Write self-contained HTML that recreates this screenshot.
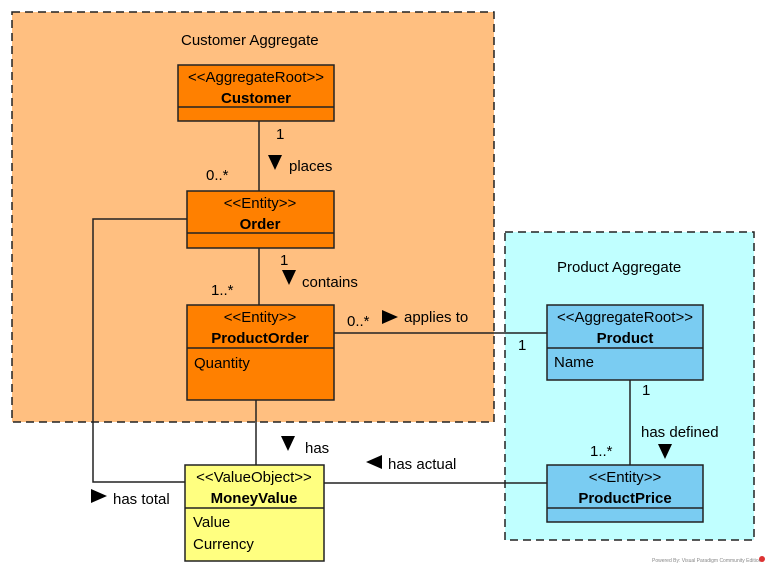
<!DOCTYPE html>
<html><head><style>body{margin:0;background:#fff}svg{display:block}text{font-family:"Liberation Sans",Arial,sans-serif;font-size:15px;fill:#000}.b{font-weight:bold}</style></head><body>
<svg width="768" height="567" viewBox="0 0 768 567" xmlns="http://www.w3.org/2000/svg">
<rect x="12" y="12" width="482" height="410" fill="#FFBF80" stroke="#222" stroke-width="1.5" stroke-dasharray="8,5"/>
<text x="181" y="45">Customer Aggregate</text>
<rect x="505" y="232" width="249" height="308" fill="#C0FFFF" stroke="#222" stroke-width="1.5" stroke-dasharray="8,5"/>
<text x="557" y="272">Product Aggregate</text>
<g stroke="#222" stroke-width="1.5" fill="none">
<line x1="259" y1="121" x2="259" y2="191"/>
<line x1="259" y1="248" x2="259" y2="305"/>
<polyline points="187,219 93,219 93,482 185,482"/>
<line x1="333" y1="333" x2="547" y2="333"/>
<line x1="256" y1="400" x2="256" y2="465"/>
<line x1="324" y1="483" x2="547" y2="483"/>
<line x1="630" y1="380" x2="630" y2="465"/>
</g>
<g fill="#000">
<polygon points="268,155 282,155 275,170"/>
<polygon points="282,270 296,270 289,285"/>
<polygon points="382,310 382,324 398,317"/>
<polygon points="281,436 295,436 288,451"/>
<polygon points="382,455 382,469 366,462"/>
<polygon points="91,489 91,503 107,496"/>
<polygon points="658,444 672,444 665,459"/>
</g>
<text x="276" y="139">1</text><text x="289" y="171">places</text><text x="206" y="180">0..*</text>
<text x="280" y="265">1</text><text x="302" y="287">contains</text><text x="211" y="295">1..*</text>
<text x="347" y="326">0..*</text><text x="404" y="322">applies to</text><text x="518" y="350">1</text>
<text x="305" y="453">has</text><text x="388" y="469">has actual</text><text x="113" y="504">has total</text>
<text x="642" y="395">1</text><text x="641" y="437">has defined</text><text x="590" y="456">1..*</text>
<g stroke="#222" stroke-width="1.5">
<rect x="178" y="65" width="156" height="56" fill="#FF8000"/><line x1="178" y1="107" x2="334" y2="107"/>
<rect x="187" y="191" width="147" height="57" fill="#FF8000"/><line x1="187" y1="233" x2="334" y2="233"/>
<rect x="187" y="305" width="147" height="95" fill="#FF8000"/><line x1="187" y1="348" x2="334" y2="348"/>
<rect x="547" y="305" width="156" height="75" fill="#7ACCF2"/><line x1="547" y1="348" x2="703" y2="348"/>
<rect x="547" y="465" width="156" height="57" fill="#7ACCF2"/><line x1="547" y1="508" x2="703" y2="508"/>
<rect x="185" y="465" width="139" height="96" fill="#FFFF80"/><line x1="185" y1="508" x2="324" y2="508"/>
</g>
<g text-anchor="middle">
<text x="256" y="82">&lt;&lt;AggregateRoot&gt;&gt;</text><text class="b" x="256" y="103">Customer</text>
<text x="260" y="208">&lt;&lt;Entity&gt;&gt;</text><text class="b" x="260" y="229">Order</text>
<text x="260" y="322">&lt;&lt;Entity&gt;&gt;</text><text class="b" x="260" y="343">ProductOrder</text>
<text x="625" y="322">&lt;&lt;AggregateRoot&gt;&gt;</text><text class="b" x="625" y="343">Product</text>
<text x="625" y="482">&lt;&lt;Entity&gt;&gt;</text><text class="b" x="625" y="503">ProductPrice</text>
<text x="254" y="482">&lt;&lt;ValueObject&gt;&gt;</text><text class="b" x="254" y="503">MoneyValue</text>
</g>
<text x="194" y="368">Quantity</text>
<text x="554" y="367">Name</text>
<text x="193" y="527">Value</text>
<text x="193" y="549">Currency</text>
<text x="652" y="562" style="font-size:5px;fill:#888">Powered By: Visual Paradigm Community Edition</text>
<circle cx="762" cy="559" r="3" fill="#d33"/>
</svg>
</body></html>
